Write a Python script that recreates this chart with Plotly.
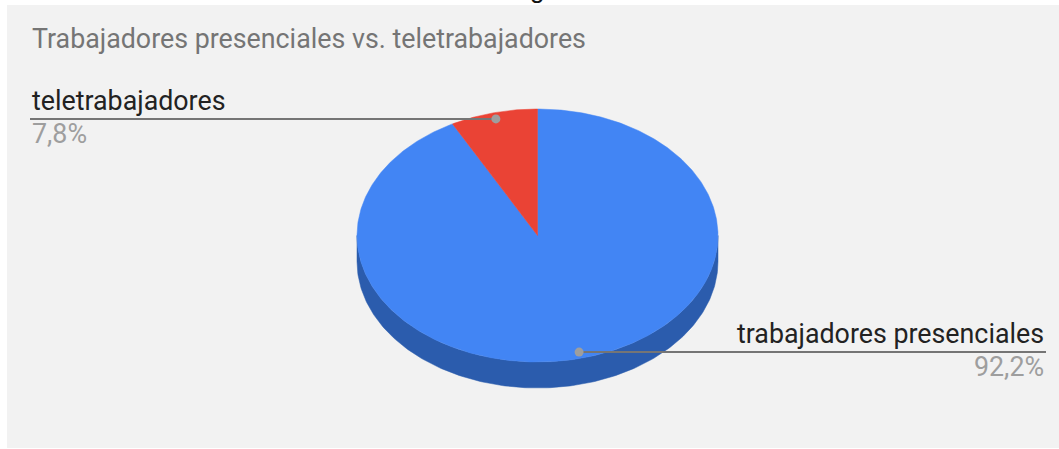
import numpy as np
import plotly.graph_objects as go

# ---- data ----
categories = ["trabajadores presenciales", "teletrabajadores"]
values = [92.2, 7.8]
title_text = "Trabajadores presenciales vs. teletrabajadores"

# ---- style / geometry ----
W, H = 1059, 449
CX, CY, RX, RY, DEPTH = 537.5, 235.5, 180.5, 126.5, 26
top_colors = ["#4285f4", "#ea4335"]
side_colors = ["#2b5cad", "#a32f25"]
FONT = "Roboto, Arial, sans-serif"
FS = 26.8
DOT_R = 0.95


def pt(theta_deg, r=1.0, dy=0.0):
    t = np.radians(theta_deg)
    return CX + RX * r * np.sin(t), CY - RY * r * np.cos(t) + dy


def fmt(v):
    return f"{v:.1f}".replace(".", ",") + "%"


total = float(sum(values))
starts, ends = [], []
acc = 0.0
for v in values:
    starts.append(acc)
    acc += v / total * 360.0
    ends.append(acc)

fig = go.Figure()

# side walls (visible front half: 90..270 deg)
for i in range(len(values)):
    a0, a1 = max(starts[i], 90.0), min(ends[i], 270.0)
    if a1 <= a0:
        continue
    th = np.linspace(a0, a1, 200)
    ux, uy = pt(th)
    lx, ly = pt(th[::-1], dy=DEPTH)
    fig.add_trace(go.Scatter(x=np.concatenate([ux, lx, ux[:1]]),
                             y=np.concatenate([uy, ly, uy[:1]]),
                             mode="lines", fill="toself",
                             fillcolor=side_colors[i],
                             line=dict(color=side_colors[i], width=0.5),
                             hoverinfo="skip", showlegend=False))

# top faces
for i in range(len(values)):
    th = np.linspace(starts[i], ends[i], max(20, int((ends[i] - starts[i]) * 2)))
    ax, ay = pt(th)
    xs = np.concatenate([[CX], ax, [CX]])
    ys = np.concatenate([[CY], ay, [CY]])
    fig.add_trace(go.Scatter(x=xs, y=ys, mode="lines", fill="toself",
                             fillcolor=top_colors[i],
                             line=dict(color=top_colors[i], width=0.5),
                             name=categories[i], text=fmt(values[i]),
                             hoverinfo="name+text", showlegend=False))

# leader lines, dots, labels
annotations = []
for i in range(len(values)):
    mid = (starts[i] + ends[i]) / 2.0
    dx, dy = pt(mid, r=DOT_R)
    if dx < CX:
        lx_end, anchor = 30, "left"
    else:
        lx_end, anchor = 1046, "right"
    fig.add_trace(go.Scatter(x=[lx_end, dx], y=[dy, dy], mode="lines",
                             line=dict(color="#757575", width=2),
                             hoverinfo="skip", showlegend=False))
    fig.add_trace(go.Scatter(x=[dx], y=[dy], mode="markers",
                             marker=dict(color="#9e9e9e", size=9),
                             hoverinfo="skip", showlegend=False))
    annotations.append(dict(x=lx_end, y=dy - 8.5 - 0.34 * FS, xref="x", yref="y",
                            text=categories[i], showarrow=False, xanchor=anchor,
                            yanchor="middle",
                            font=dict(family=FONT, size=FS, color="#222222")))
    annotations.append(dict(x=lx_end, y=dy + 24 - 0.34 * FS, xref="x", yref="y",
                            text=fmt(values[i]), showarrow=False, xanchor=anchor,
                            yanchor="middle",
                            font=dict(family=FONT, size=FS, color="#9e9e9e")))

annotations.append(dict(x=30, y=47.7 - 0.34 * FS, xref="x", yref="y",
                        text=title_text, showarrow=False, xanchor="left",
                        yanchor="middle",
                        font=dict(family=FONT, size=FS, color="#757575")))
# clipped descender of a caption above the chart
annotations.append(dict(x=537 / W, y=1, xref="paper", yref="paper",
                        text="g", showarrow=False, xanchor="center",
                        yanchor="middle", yshift=2 + 0.34 * 26,
                        font=dict(family="Arial, Liberation Sans", size=26,
                                  color="#111111")))

fig.update_layout(
    width=W, height=H,
    margin=dict(l=0, r=0, t=0, b=0),
    paper_bgcolor="white", plot_bgcolor="white",
    xaxis=dict(range=[0, W], visible=False, fixedrange=True),
    yaxis=dict(range=[H, 0], visible=False, fixedrange=True),
    shapes=[dict(type="rect", xref="x", yref="y", x0=7, x1=W, y0=5, y1=448,
                 fillcolor="#f2f2f2", line=dict(width=0), layer="below")],
    annotations=annotations,
)

fig.write_html("out.html", config={"displayModeBar": False},
               post_script="document.body.style.margin='0';")
